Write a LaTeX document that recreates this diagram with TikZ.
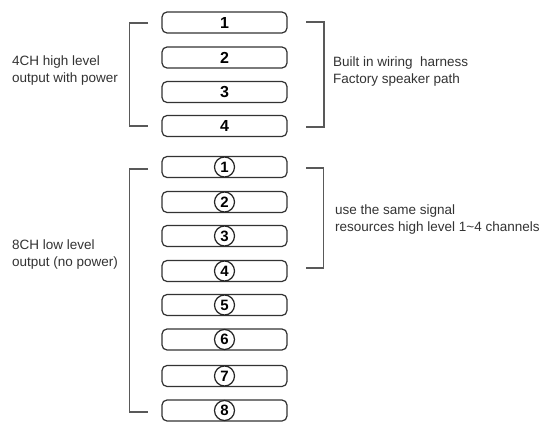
\documentclass[tikz,border=0pt]{standalone}
\usepackage{fontspec}
\setmainfont{Liberation Sans}
\begin{document}
\begin{tikzpicture}[x=1pt,y=-1pt,
  chbox/.style={draw=black!80,line width=1.2pt,rounded corners=5pt,minimum width=125pt,minimum height=21pt,inner sep=0pt,font=\fontsize{16}{16}\selectfont\bfseries},
  cnum/.style={draw=black!85,line width=1.2pt,circle,minimum size=20pt,inner sep=0pt,font=\fontsize{15}{15}\selectfont\bfseries},
  brk/.style={draw=black!65,line width=1.3pt},
  lbl/.style={anchor=west,align=left,inner sep=0pt,text=black!80,font=\fontsize{13.5}{17}\selectfont}]
\useasboundingbox (0,0) rectangle (550,434);
\fill[white] (0,0) rectangle (550,434);
% high level boxes
\node[chbox] (b1) at (224.5,22.5) {1};
\node[chbox] (b2) at (224.5,57.5) {2};
\node[chbox] (b3) at (224.5,92) {3};
\node[chbox] (b4) at (224.5,126) {4};
% low level boxes
\foreach \i/\y in {1/167,2/202,3/236,4/271,5/305,6/339.5,7/376,8/410.5}{
  \node[chbox] (c\i) at (224.5,\y) {};
  \node[cnum] (n\i) at (c\i) {\i};
}
% brackets
\coordinate (ul1) at (148,23); \coordinate (ul2) at (129.5,23);
\coordinate (ul3) at (129.5,126); \coordinate (ul4) at (148,126);
\draw[brk] (ul1) -- (ul2) -- (ul3) -- (ul4);
\coordinate (ur1) at (306,22); \coordinate (ur2) at (324,22);
\coordinate (ur3) at (324,127); \coordinate (ur4) at (306,127);
\draw[brk] (ur1) -- (ur2) -- (ur3) -- (ur4);
\coordinate (ll1) at (148,169); \coordinate (ll2) at (129.5,169);
\coordinate (ll3) at (129.5,412); \coordinate (ll4) at (148,412);
\draw[brk] (ll1) -- (ll2) -- (ll3) -- (ll4);
\coordinate (lr1) at (306,168); \coordinate (lr2) at (323.5,168);
\coordinate (lr3) at (323.5,268); \coordinate (lr4) at (306,268);
\draw[brk] (lr1) -- (lr2) -- (lr3) -- (lr4);
% labels
\node[lbl] (t1) at (12,71) {4CH high level\\output with power};
\node[lbl] (t2) at (333,71.5) {Built in wiring\ \ harness\\Factory speaker path};
\node[lbl] (t3) at (335,219.5) {use the same signal\\resources high level 1\textasciitilde4 channels};
\node[lbl] (t4) at (12,254.5) {8CH low level\\output (no power)};
\end{tikzpicture}
\end{document}
